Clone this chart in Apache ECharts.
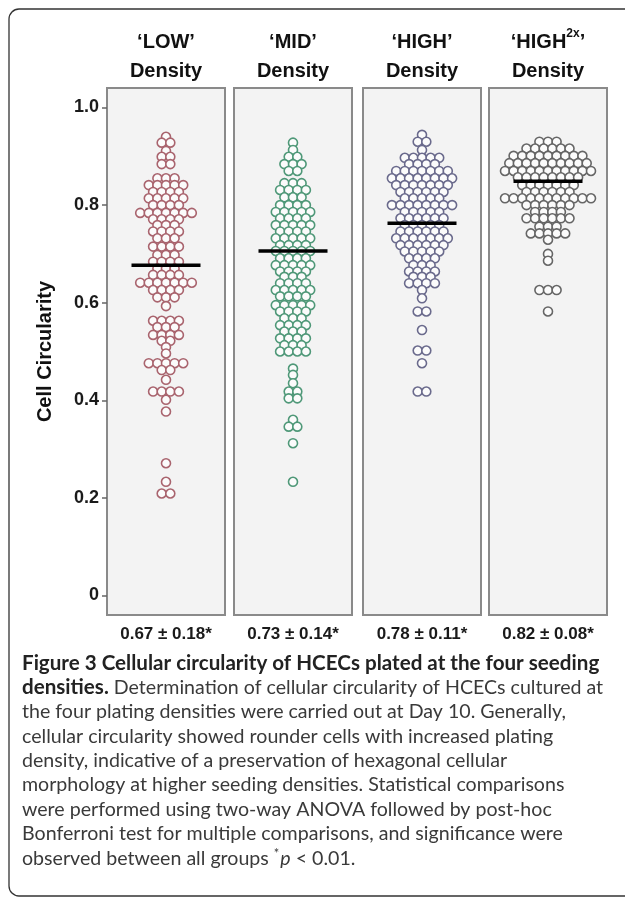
<!DOCTYPE html>
<html>
<head>
<meta charset="utf-8">
<script src="https://cdn.jsdelivr.net/npm/echarts@6/dist/echarts.min.js"></script>
<style>
html,body{margin:0;padding:0;background:#fff;}
#chart{width:625px;height:899px;}
</style>
</head>
<body>
<div id="chart"></div>
<script>
// ---- data: [circularity value, number of cells at that value] ----
const groupNames = ["LOW", "MID", "HIGH", "HIGH2x"];
const statLabels = ["0.67 \u00b1 0.18*", "0.73 \u00b1 0.14*", "0.78 \u00b1 0.11*", "0.82 \u00b1 0.08*"];
const meanValues = [0.677, 0.706, 0.763, 0.849];
const yTicks = [0, 0.2, 0.4, 0.6, 0.8, 1.0];

const lowRows = [
  [0.940,1],[0.928,2],[0.911,1],[0.899,2],[0.884,2],[0.855,3],[0.841,5],[0.827,4],
  [0.814,5],[0.800,4],[0.784,7],[0.771,4],[0.759,3],[0.746,4],[0.732,3],[0.715,4],
  [0.698,3],[0.684,4],[0.670,3],[0.657,4],[0.641,7],[0.626,4],[0.611,3],[0.593,1],
  [0.563,4],[0.550,3],[0.534,4],[0.522,2],[0.509,1],[0.496,1],[0.476,5],[0.462,2],
  [0.442,1],[0.418,4],[0.401,1],[0.377,1],[0.271,1],[0.233,1],[0.209,2]
];
const midRows = [
  [0.928,1],[0.913,1],[0.899,2],[0.884,3],[0.870,2],[0.845,3],[0.831,4],[0.816,3],
  [0.800,4],[0.786,5],[0.773,4],[0.759,5],[0.746,4],[0.732,5],[0.718,4],[0.706,5],
  [0.691,4],[0.677,5],[0.664,4],[0.653,3],[0.640,4],[0.626,5],[0.613,4],[0.595,5],
  [0.582,4],[0.568,3],[0.554,4],[0.541,3],[0.527,4],[0.513,3],[0.500,4],[0.465,1],
  [0.452,1],[0.435,1],[0.418,2],[0.404,2],[0.360,1],[0.346,2],[0.312,1],[0.233,1]
];
const highRows = [
  [0.944,1],[0.930,2],[0.913,1],[0.897,5],[0.884,4],[0.870,7],[0.855,8],[0.841,7],
  [0.827,6],[0.814,5],[0.800,8],[0.786,5],[0.773,6],[0.759,5],[0.746,6],[0.732,7],
  [0.718,6],[0.705,5],[0.691,4],[0.677,3],[0.664,4],[0.653,3],[0.640,4],[0.626,1],
  [0.609,1],[0.582,2],[0.544,1],[0.502,2],[0.476,1],[0.418,2]
];
const high2xRows = [
  [0.930,3],[0.916,6],[0.901,9],[0.886,10],[0.870,11],[0.857,8],[0.841,7],[0.827,6],
  [0.814,11],[0.800,6],[0.786,4],[0.773,6],[0.756,3],[0.742,5],[0.729,1],[0.700,1],
  [0.686,1],[0.626,3],[0.582,1]
];
const allRows = [lowRows, midRows, highRows, high2xRows];

// ---- styling ----
const dotColors = ["#a9646e", "#4f9878", "#6a6a8c", "#666666"];
const panelLeft = [107, 234, 363, 489];
const panelWidth = 118;
const panelTop = 88;
const panelHeight = 527;
const dotSpacing = 8.6;
const FONT = "'Liberation Sans', Arial, sans-serif";

function swarm(rows) {
  const pts = [];
  rows.forEach(function (r) {
    const v = r[0], n = r[1];
    for (let i = 0; i < n; i++) pts.push([(i - (n - 1) / 2) * dotSpacing, v]);
  });
  return pts;
}

const grids = [], xAxes = [], yAxes = [], series = [];
for (let g = 0; g < 4; g++) {
  grids.push({
    left: panelLeft[g], top: panelTop, width: panelWidth, height: panelHeight,
    show: true, backgroundColor: "#f3f3f3", borderColor: "#8a8a8a", borderWidth: 2
  });
  xAxes.push({ gridIndex: g, type: "value", min: -panelWidth / 2, max: panelWidth / 2, show: false });
  yAxes.push({
    gridIndex: g, type: "value", min: -0.04, max: 1.04,
    show: g === 0, position: "left",
    name: g === 0 ? "Cell Circularity" : "",
    nameLocation: "middle", nameRotate: 90, nameGap: 52,
    nameTextStyle: { fontFamily: FONT, fontWeight: "bold", fontSize: 20, color: "#111" },
    axisLine: { show: false, onZero: false },
    splitLine: { show: false },
    axisTick: { show: true, inside: false, length: 5, customValues: yTicks, lineStyle: { color: "#666", width: 1.5 } },
    axisLabel: {
      show: true, customValues: yTicks, margin: 8,
      fontFamily: FONT, fontWeight: "bold", fontSize: 18, color: "#1a1a1a",
      formatter: function (v) { return v === 0 ? "0" : v.toFixed(1); }
    }
  });
  series.push({
    type: "scatter", xAxisIndex: g, yAxisIndex: g,
    data: swarm(allRows[g]),
    symbol: "circle", symbolSize: 9,
    itemStyle: { color: "#fbfbfb", borderColor: dotColors[g], borderWidth: 1.6, opacity: 1 },
    silent: true, z: 2
  });
  series.push({
    type: "line", xAxisIndex: g, yAxisIndex: g,
    data: [[-34.5, meanValues[g]], [34.5, meanValues[g]]],
    symbol: "none", lineStyle: { color: "#000", width: 3.5 }, silent: true, z: 5
  });
}

const graphics = [
  { type: "rect", shape: { x: 9, y: 9, width: 660, height: 887, r: 10 },
    style: { fill: "none", stroke: "#333", lineWidth: 1.3 }, silent: true }
];
const headerTop = ["\u2018LOW\u2019", "\u2018MID\u2019", "\u2018HIGH\u2019", null];
for (let g = 0; g < 4; g++) {
  const cx = panelLeft[g] + panelWidth / 2;
  if (headerTop[g]) {
    graphics.push({ type: "text", x: cx, y: 42, style: { text: headerTop[g], x: 0, y: 0, align: "center", verticalAlign: "middle",
      font: "bold 20px " + FONT, fill: "#111" } });
  } else {
    graphics.push({ type: "text", x: cx, y: 40, style: {
      text: "{a|\u2018HIGH}{s|2x}{a|\u2019}", align: "center", verticalAlign: "middle",
      rich: { a: { font: "bold 20px " + FONT, fill: "#111", verticalAlign: "bottom", lineHeight: 24 },
              s: { font: "bold 12px " + FONT, fill: "#111", verticalAlign: "top", lineHeight: 24, padding: [0,0,8,0] } } } });
  }
  graphics.push({ type: "text", x: cx, y: 71, style: { text: "Density", align: "center", verticalAlign: "middle",
    font: "bold 20px " + FONT, fill: "#111" } });
  graphics.push({ type: "text", x: cx, y: 634, style: { text: statLabels[g], align: "center", verticalAlign: "middle",
    font: "bold 17px " + FONT, fill: "#1a1a1a" } });
}

const CAP = "Lato, 'Open Sans', sans-serif";
const capLines = [
  [["b", "Figure 3 Cellular circularity of HCECs plated at the four seeding"]],
  [["b", "densities."], ["r", " Determination of cellular circularity of HCECs cultured at"]],
  [["r", "the four plating densities were carried out at Day 10. Generally,"]],
  [["r", "cellular circularity showed rounder cells with increased plating"]],
  [["r", "density, indicative of a preservation of hexagonal cellular"]],
  [["r", "morphology at higher seeding densities. Statistical comparisons"]],
  [["r", "were performed using two-way ANOVA followed by post-hoc"]],
  [["r", "Bonferroni test for multiple comparisons, and significance were"]],
  [["r", "observed between all groups "], ["s", "*"], ["i", "p"], ["r", " < 0.01."]]
];
capLines.forEach(function (line, k) {
  const txt = line.map(function (seg) { return "{" + seg[0] + "|" + seg[1] + "}"; }).join("");
  graphics.push({ type: "text", x: 22, y: 663 + k * 24.4, style: {
    text: txt, align: "left", verticalAlign: "middle",
    rich: {
      b: { font: "bold 20.6px " + CAP, fill: "#222" },
      r: { font: "19.6px " + CAP, fill: "#3a3a3a" },
      i: { font: "italic 19.6px " + CAP, fill: "#3a3a3a" },
      s: { font: "13px " + CAP, fill: "#3a3a3a", padding: [0, 1, 9, 0] }
    } } });
});

const chart = echarts.init(document.getElementById("chart"), null, { renderer: "canvas" });
chart.setOption({
  animation: false,
  backgroundColor: "#ffffff",
  grid: grids, xAxis: xAxes, yAxis: yAxes, series: series,
  graphic: graphics
});
</script>
</body>
</html>
